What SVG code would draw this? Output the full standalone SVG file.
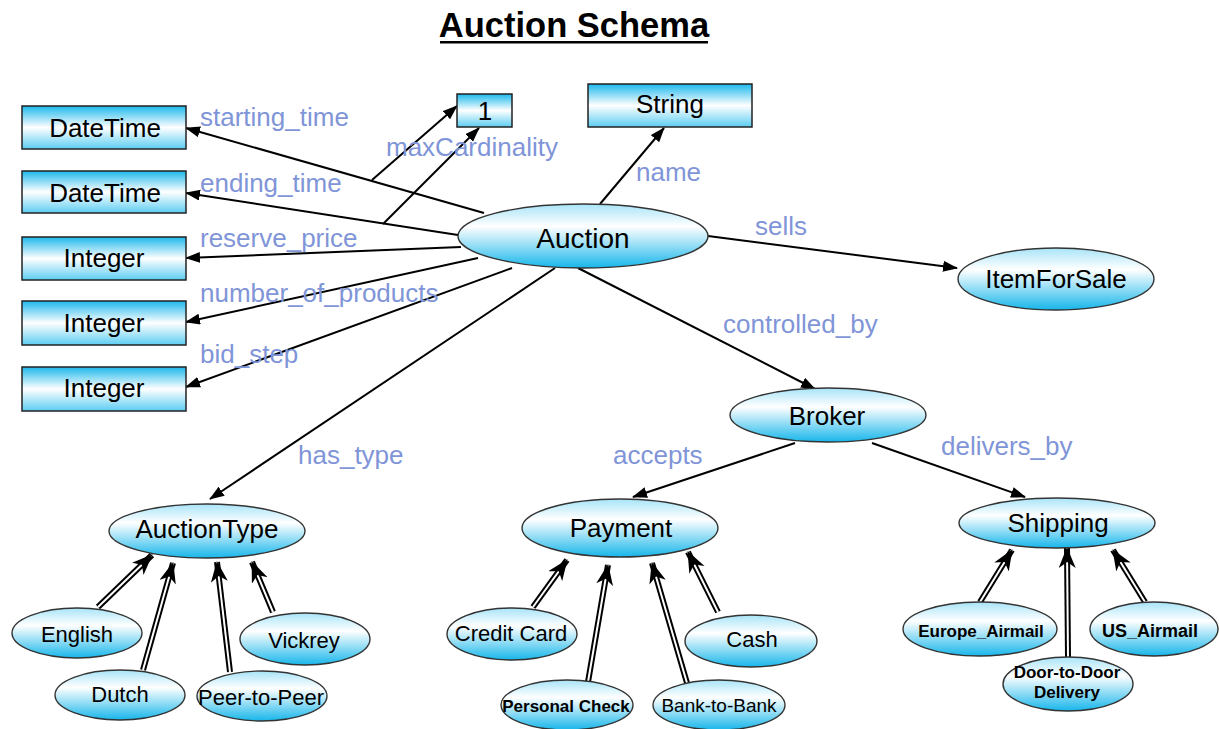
<svg xmlns="http://www.w3.org/2000/svg" width="1219" height="729" viewBox="0 0 1219 729">
  <defs>
    <linearGradient id="gRect" x1="0" y1="0" x2="0" y2="1">
      <stop offset="0" stop-color="#1cb8ec"/>
      <stop offset="0.5" stop-color="#ffffff"/>
      <stop offset="1" stop-color="#5ccdf2"/>
    </linearGradient>
    <linearGradient id="gEll" x1="0" y1="0" x2="0" y2="1">
      <stop offset="0" stop-color="#a8e4f8"/>
      <stop offset="0.35" stop-color="#ffffff"/>
      <stop offset="1" stop-color="#17b6ea"/>
    </linearGradient>
    <marker id="arrow" markerUnits="userSpaceOnUse" markerWidth="16" markerHeight="12" refX="14" refY="5.5" orient="auto">
      <path d="M0,0 L15,5.5 L0,11 z" fill="#000"/>
    </marker>
    <marker id="subArrow" markerUnits="userSpaceOnUse" markerWidth="22" markerHeight="18" refX="20" refY="8.5" orient="auto">
      <path d="M0,0 L21,8.5 L0,17 L6,8.5 z" fill="#000"/>
    </marker>
  </defs>
  <style>
    .title { font-family: "Liberation Sans", Arial, sans-serif; font-size: 34.5px; font-weight: bold; fill: #000; text-anchor: middle; }
    .box { fill: url(#gRect); stroke: #222; stroke-width: 1.5; }
    .ell { fill: url(#gEll); stroke: #333; stroke-width: 1.4; }
    .lbl { font-family: "Liberation Sans", Arial, sans-serif; font-size: 26px; fill: #000; text-anchor: middle; }
    .big { font-size: 28px; }
    .sm { font-size: 22px; }
    .xs { font-size: 17px; font-weight: bold; }
    .rel { font-family: "Liberation Sans", Arial, sans-serif; font-size: 26px; fill: #7f95d8; }
    .edge { stroke: #000; stroke-width: 2; fill: none; marker-end: url(#arrow); }
    .sub-out { stroke: #000; stroke-width: 6; fill: none; }
    .sub-in { stroke: #fff; stroke-width: 2; fill: none; marker-end: url(#subArrow); }
  </style>

  <rect width="1219" height="729" fill="#fff"/>

  <!-- heading -->
  <text class="title" x="574" y="37">Auction Schema</text>
  <rect x="440" y="41" width="268" height="2.5" fill="#000"/>

  <!-- connectors -->
  <g id="connectors">
    <line class="edge" x1="484" y1="213" x2="186" y2="128"/>
    <line class="edge" x1="458" y1="235" x2="186" y2="193"/>
    <line class="edge" x1="461" y1="247" x2="186" y2="258"/>
    <line class="edge" x1="478" y1="258" x2="186" y2="322"/>
    <line class="edge" x1="512" y1="268" x2="186" y2="387"/>
    <line class="edge" x1="555" y1="268" x2="210" y2="499"/>
    <line class="edge" x1="372" y1="180" x2="457" y2="106"/>
    <line class="edge" x1="383" y1="224" x2="479" y2="128"/>
    <line class="edge" x1="600" y1="204" x2="664" y2="128"/>
    <line class="edge" x1="708" y1="236" x2="957" y2="268"/>
    <line class="edge" x1="578" y1="268" x2="815" y2="389"/>
    <line class="edge" x1="795" y1="443" x2="633" y2="497"/>
    <line class="edge" x1="872" y1="443" x2="1025" y2="497"/>

    <!-- subclass links -->
    <g>
      <line class="sub-out" x1="98" y1="607" x2="152" y2="555"/>
      <line class="sub-in" x1="98" y1="607" x2="152" y2="555"/>
      <line class="sub-out" x1="143" y1="670" x2="173" y2="563"/>
      <line class="sub-in" x1="143" y1="670" x2="173" y2="563"/>
      <line class="sub-out" x1="230" y1="672" x2="217" y2="562"/>
      <line class="sub-in" x1="230" y1="672" x2="217" y2="562"/>
      <line class="sub-out" x1="273" y1="612" x2="252" y2="562"/>
      <line class="sub-in" x1="273" y1="612" x2="252" y2="562"/>

      <line class="sub-out" x1="533" y1="607" x2="567" y2="560"/>
      <line class="sub-in" x1="533" y1="607" x2="567" y2="560"/>
      <line class="sub-out" x1="588" y1="682" x2="608" y2="565"/>
      <line class="sub-in" x1="588" y1="682" x2="608" y2="565"/>
      <line class="sub-out" x1="687" y1="683" x2="652" y2="563"/>
      <line class="sub-in" x1="687" y1="683" x2="652" y2="563"/>
      <line class="sub-out" x1="718" y1="612" x2="688" y2="552"/>
      <line class="sub-in" x1="718" y1="612" x2="688" y2="552"/>

      <line class="sub-out" x1="980" y1="602" x2="1012" y2="550"/>
      <line class="sub-in" x1="980" y1="602" x2="1012" y2="550"/>
      <line class="sub-out" x1="1068" y1="657" x2="1067" y2="548"/>
      <line class="sub-in" x1="1068" y1="657" x2="1067" y2="548"/>
      <line class="sub-out" x1="1145" y1="602" x2="1113" y2="550"/>
      <line class="sub-in" x1="1145" y1="602" x2="1113" y2="550"/>
    </g>
  </g>

  <!-- relation labels -->
  <g id="relation-labels">
    <text class="rel" x="200" y="126">starting_time</text>
    <text class="rel" x="386" y="156">maxCardinality</text>
    <text class="rel" x="200" y="192">ending_time</text>
    <text class="rel" x="636" y="181">name</text>
    <text class="rel" x="200" y="247">reserve_price</text>
    <text class="rel" x="200" y="302">number_of_products</text>
    <text class="rel" x="200" y="363">bid_step</text>
    <text class="rel" x="755" y="235">sells</text>
    <text class="rel" x="723" y="333">controlled_by</text>
    <text class="rel" x="298" y="464">has_type</text>
    <text class="rel" x="613" y="464">accepts</text>
    <text class="rel" x="941" y="455">delivers_by</text>
  </g>

  <!-- literal value boxes -->
  <g id="n-datetime-start"><rect class="box" x="22" y="106" width="164" height="43"/><text class="lbl" x="105" y="137">DateTime</text></g>
  <g id="n-datetime-end"><rect class="box" x="22" y="171" width="164" height="42"/><text class="lbl" x="105" y="202">DateTime</text></g>
  <g id="n-integer-reserve"><rect class="box" x="22" y="237" width="164" height="43"/><text class="lbl" x="104" y="267">Integer</text></g>
  <g id="n-integer-products"><rect class="box" x="22" y="301" width="164" height="44"/><text class="lbl" x="104" y="332">Integer</text></g>
  <g id="n-integer-step"><rect class="box" x="22" y="367" width="164" height="44"/><text class="lbl" x="104" y="397">Integer</text></g>
  <g id="n-one"><rect class="box" x="457" y="94" width="55" height="33"/><text class="lbl" x="485" y="120">1</text></g>
  <g id="n-string"><rect class="box" x="588" y="84" width="164" height="43"/><text class="lbl" x="670" y="113">String</text></g>

  <!-- classes -->
  <g id="n-auction"><ellipse class="ell" cx="583" cy="236" rx="125" ry="32"/><text class="lbl big" x="583" y="248">Auction</text></g>
  <g id="n-itemforsale"><ellipse class="ell" cx="1056" cy="279" rx="98" ry="31"/><text class="lbl" x="1056" y="288">ItemForSale</text></g>
  <g id="n-broker"><ellipse class="ell" cx="828" cy="415" rx="98" ry="27"/><text class="lbl" x="827" y="425">Broker</text></g>
  <g id="n-auctiontype"><ellipse class="ell" cx="207" cy="531" rx="98" ry="27"/><text class="lbl" x="207" y="538">AuctionType</text></g>
  <g id="n-payment"><ellipse class="ell" cx="620" cy="528" rx="98" ry="29"/><text class="lbl" x="621" y="537">Payment</text></g>
  <g id="n-shipping"><ellipse class="ell" cx="1057" cy="523" rx="98" ry="25"/><text class="lbl" x="1058" y="532">Shipping</text></g>

  <!-- auction types -->
  <g id="n-english"><ellipse class="ell" cx="77" cy="633" rx="65" ry="25"/><text class="lbl sm" x="77" y="642">English</text></g>
  <g id="n-dutch"><ellipse class="ell" cx="120" cy="695" rx="65" ry="25"/><text class="lbl sm" x="120" y="702">Dutch</text></g>
  <g id="n-peer"><ellipse class="ell" cx="262" cy="696" rx="65" ry="25"/><text class="lbl sm" x="261" y="705">Peer-to-Peer</text></g>
  <g id="n-vickrey"><ellipse class="ell" cx="305" cy="639" rx="65" ry="26"/><text class="lbl sm" x="304" y="648">Vickrey</text></g>

  <!-- payment kinds -->
  <g id="n-creditcard"><ellipse class="ell" cx="512" cy="634" rx="65" ry="26"/><text class="lbl sm" x="511" y="641">Credit Card</text></g>
  <g id="n-personalcheck"><ellipse class="ell" cx="567" cy="705" rx="66" ry="25"/><text class="lbl xs" x="566" y="712">Personal Check</text></g>
  <g id="n-banktobank"><ellipse class="ell" cx="719" cy="705" rx="66" ry="25"/><text class="lbl" style="font-size:19px" x="719" y="712">Bank-to-Bank</text></g>
  <g id="n-cash"><ellipse class="ell" cx="751" cy="641" rx="66" ry="26"/><text class="lbl sm" x="752" y="647">Cash</text></g>

  <!-- shipping kinds -->
  <g id="n-europe"><ellipse class="ell" cx="980" cy="629" rx="77" ry="27"/><text class="lbl xs" x="981" y="637">Europe_Airmail</text></g>
  <g id="n-doortodoor"><ellipse class="ell" cx="1068" cy="684" rx="65" ry="27"/><text class="lbl xs" x="1067" y="678">Door-to-Door</text><text class="lbl xs" x="1067" y="698">Delivery</text></g>
  <g id="n-us"><ellipse class="ell" cx="1154" cy="629" rx="64" ry="27"/><text class="lbl xs" style="font-size:18px" x="1150" y="637">US_Airmail</text></g>
</svg>
